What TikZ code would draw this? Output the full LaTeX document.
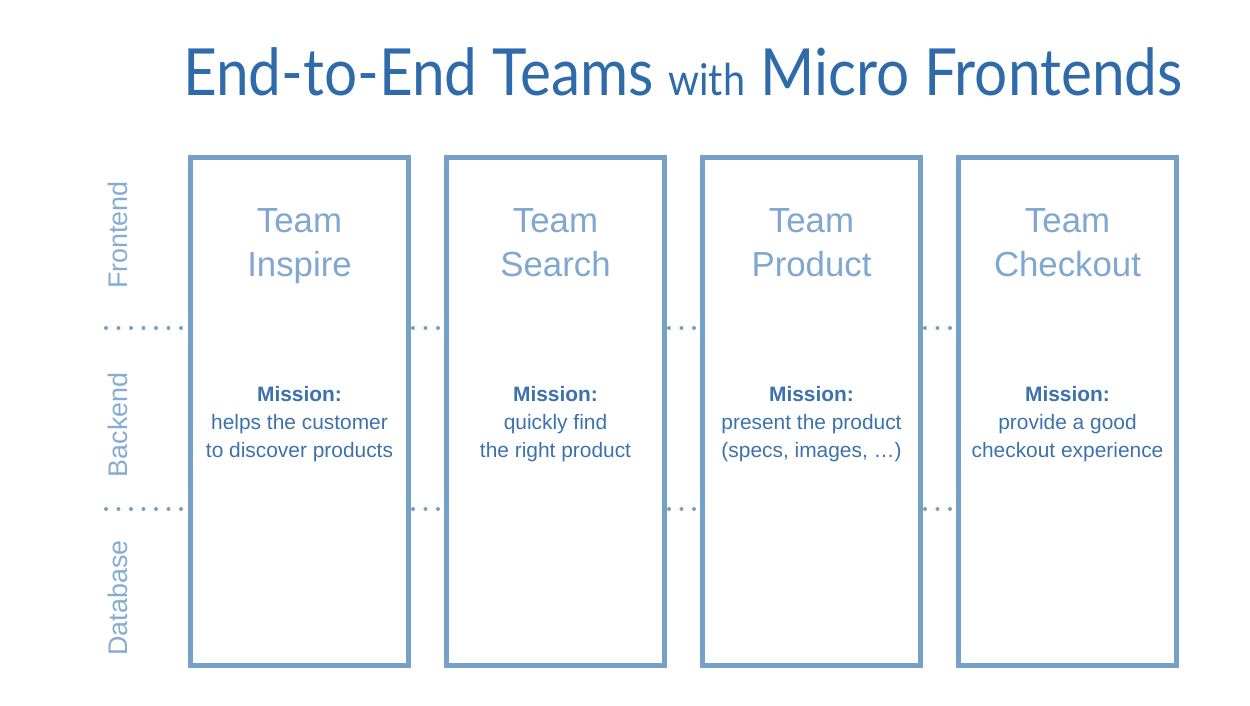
\documentclass[tikz,border=0pt]{standalone}
\usepackage{fontspec}
\setmainfont{Liberation Sans}
\newfontfamily\titlefont{Lato}
\usetikzlibrary{positioning}

\definecolor{boxblue}{HTML}{75A0C7}
\definecolor{teamblue}{HTML}{7FA7CF}
\definecolor{missionblue}{HTML}{3C72AB}
\definecolor{layerblue}{HTML}{86ACD2}
\definecolor{titleblue}{HTML}{2F6BAA}

\begin{document}
\begin{tikzpicture}[x=0.02cm, y=-0.02cm,
    teambox/.style={draw=boxblue, line width=0.1cm, rectangle, inner sep=0pt, outer sep=0pt,
        minimum width=4.36cm, minimum height=10.16cm},
    teamname/.style={text=teamblue, align=center, anchor=north, font=\fontsize{19.8}{25.5}\selectfont},
    mission/.style={text=missionblue, align=center, anchor=north, font=\fontsize{11.9}{15.9}\selectfont},
    layer/.style={text=layerblue, rotate=90, font=\fontsize{15.3}{18}\selectfont},
    layerdots/.style={draw=boxblue, line width=0.08cm, line cap=round, dash pattern=on 0pt off 0.25cm}]
    \useasboundingbox (0,0) rectangle (1250,706);

    % title
    \node[anchor=base, text=titleblue] (title) at (683,95)
        {\scalebox{0.9}[1]{\titlefont\fontsize{37}{40}\selectfont End-to-End Teams {\fontsize{25}{28}\selectfont with} Micro Frontends}};

    % the four teams
    \node[teambox] (inspire)  at (299.5,411.5) {};
    \node[teambox] (search)   at (555.5,411.5) {};
    \node[teambox] (product)  at (811.5,411.5) {};
    \node[teambox] (checkout) at (1067.5,411.5) {};

    \node[teamname] (inspireName)  at (inspire  |- 0,202) {Team\\Inspire};
    \node[teamname] (searchName)   at (search   |- 0,202) {Team\\Search};
    \node[teamname] (productName)  at (product  |- 0,202) {Team\\Product};
    \node[teamname] (checkoutName) at (checkout |- 0,202) {Team\\Checkout};

    \node[mission] (inspireMission)  at (inspire  |- 0,380.5) {\textbf{Mission:}\\helps the customer\\to discover products};
    \node[mission] (searchMission)   at (search   |- 0,380.5) {\textbf{Mission:}\\quickly find\\the right product};
    \node[mission] (productMission)  at (product  |- 0,380.5) {\textbf{Mission:}\\present the product\\(specs, images, …)};
    \node[mission] (checkoutMission) at (checkout |- 0,380.5) {\textbf{Mission:}\\provide a good\\checkout experience};

    % layers
    \node[layer] (frontend) at (118,235) {Frontend};
    \node[layer] (backend)  at (118,425) {Backend};
    \node[layer] (database) at (118,598) {Database};

    \coordinate (fe) at (106,328);
    \coordinate (bd) at (106,509);

    \draw[layerdots] (fe) -- (fe -| inspire.west);
    \draw[layerdots] (bd) -- (bd -| inspire.west);
    \foreach \a/\b in {inspire/search, search/product, product/checkout} {
        \draw[layerdots, shorten <=0.09cm] (fe -| \a.east) -- (fe -| \b.west);
        \draw[layerdots, shorten <=0.09cm] (bd -| \a.east) -- (bd -| \b.west);
    }
\end{tikzpicture}
\end{document}
